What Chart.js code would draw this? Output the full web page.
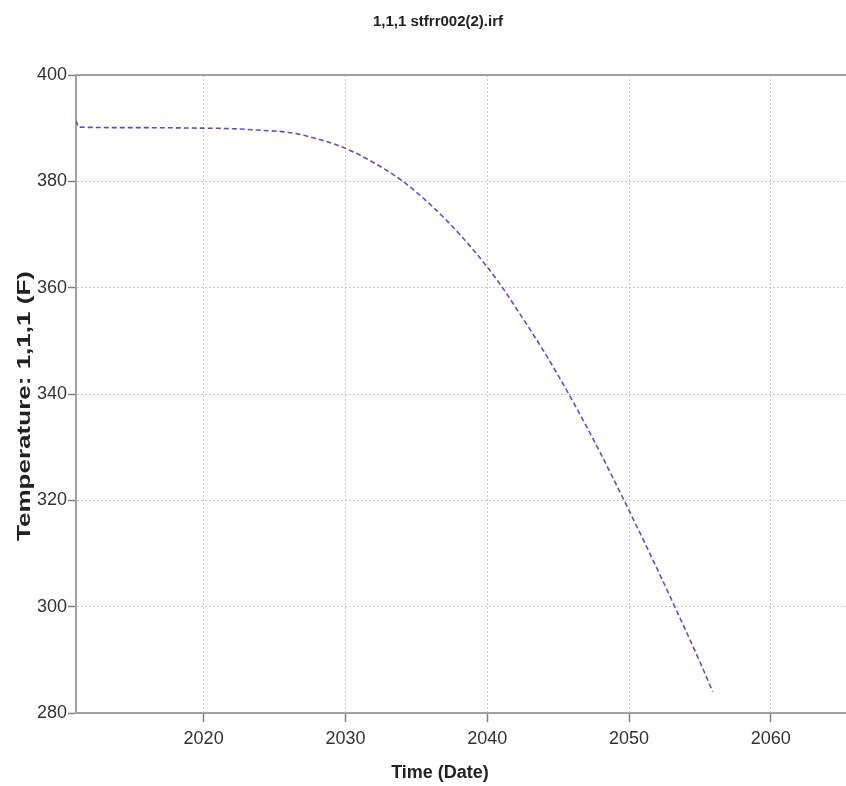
<!DOCTYPE html>
<html>
<head>
<meta charset="utf-8">
<title>1,1,1 stfrr002(2).irf</title>
<script src="https://cdn.jsdelivr.net/npm/chart.js@4/dist/chart.umd.min.js"></script>
<style>
  html, body { margin: 0; padding: 0; background: #fff; }
  canvas { display: block; }
</style>
</head>
<body>
<canvas id="tempChart" width="846" height="786"></canvas>
<script>
// Temperature at cell 1,1,1 over time
const years = [2011.0, 2011.2, 2015, 2020, 2022, 2024, 2026, 2028, 2030, 2032, 2034, 2036, 2038, 2040, 2041, 2042, 2043, 2044, 2045, 2046, 2047, 2048, 2049, 2050, 2051, 2052, 2053, 2054, 2055, 2055.9];
const temps = [391.4, 390.2, 390.1, 390.0, 389.9, 389.6, 389.2, 388.0, 386.2, 383.5, 380.1, 375.6, 370.2, 363.9, 360.3, 356.3, 352.2, 348.0, 343.5, 338.8, 333.9, 328.8, 323.5, 318.1, 312.6, 307.0, 301.3, 295.5, 289.6, 284.0];

const xTicks = [2020, 2030, 2040, 2050, 2060];
const yTicks = [280, 300, 320, 340, 360, 380, 400];

const chartTitle = '1,1,1 stfrr002(2).irf';
const xTitle = 'Time (Date)';
const yTitle = 'Temperature: 1,1,1 (F)';

const points = years.map((x, i) => ({ x: x, y: temps[i] }));

const labelFont = { family: '"Liberation Sans", Arial, sans-serif', size: 18 };

// titles and the top frame line
const captions = {
  id: 'captions',
  afterDraw(chart) {
    const ctx = chart.ctx;
    const area = chart.chartArea;
    ctx.save();
    ctx.strokeStyle = '#a0a0a0';
    ctx.lineWidth = 2;
    ctx.beginPath();
    ctx.moveTo(area.left, area.top);
    ctx.lineTo(chart.width, area.top);
    ctx.stroke();

    ctx.fillStyle = '#222';
    ctx.textAlign = 'center';
    ctx.textBaseline = 'middle';
    ctx.font = 'bold 15px "Liberation Sans", Arial, sans-serif';
    ctx.fillText(chartTitle, 438, 22);

    ctx.font = 'bold 18px "Liberation Sans", Arial, sans-serif';
    ctx.fillText(xTitle, 440, 773);

    ctx.translate(25, 406);
    ctx.rotate(-Math.PI / 2);
    ctx.font = 'bold 19px "Liberation Sans", Arial, sans-serif';
    const w = ctx.measureText(yTitle).width;
    ctx.scale(270 / w, 1);
    ctx.fillText(yTitle, 0, 0);
    ctx.restore();
  }
};

new Chart(document.getElementById('tempChart'), {
  type: 'line',
  data: {
    datasets: [{
      data: points,
      borderColor: '#5454cc',
      borderWidth: 1.6,
      borderDash: [5, 3],
      pointRadius: 0,
      cubicInterpolationMode: 'monotone',
      fill: false,
    }],
  },
  options: {
    responsive: false,
    animation: false,
    layout: { padding: { top: 75, right: 0, left: 0, bottom: 0 } },
    plugins: {
      legend: { display: false },
      tooltip: { enabled: false },
    },
    scales: {
      x: {
        type: 'linear',
        min: 2011,
        max: 2065.3,
        afterBuildTicks: (scale) => { scale.ticks = xTicks.map((v) => ({ value: v })); },
        afterFit: (scale) => { scale.height = 73; },
        grid: { color: '#c8c8c8', lineWidth: 1, tickLength: 9, tickColor: '#808080', tickWidth: 1.5 },
        border: { color: '#a0a0a0', width: 2, dash: [2, 2] },
        ticks: { color: '#333', font: labelFont, padding: 6, maxRotation: 0, callback: (v) => String(v) },
      },
      y: {
        type: 'linear',
        min: 280,
        max: 400,
        afterBuildTicks: (scale) => { scale.ticks = yTicks.map((v) => ({ value: v })); },
        afterFit: (scale) => { scale.width = 76; },
        grid: { color: '#c8c8c8', lineWidth: 1, tickLength: 8, tickColor: '#808080', tickWidth: 1.5 },
        border: { color: '#a0a0a0', width: 2, dash: [2, 2] },
        ticks: { color: '#333', font: labelFont, padding: 1 },
      },
    },
  },
  plugins: [captions],
});
</script>
</body>
</html>
